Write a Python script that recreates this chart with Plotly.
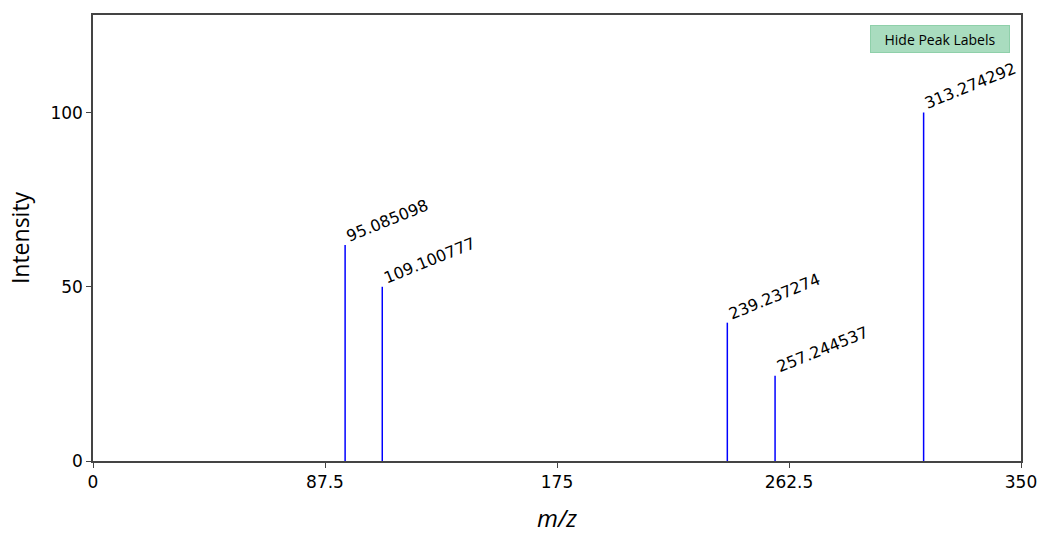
import plotly.graph_objects as go

# Peak list (m/z, relative intensity)
mz = [95.085098, 109.100777, 239.237274, 257.244537, 313.274292]
intensity = [62.0, 50.0, 39.7, 24.5, 100.0]
peak_labels = ["95.085098", "109.100777", "239.237274", "257.244537", "313.274292"]

x_ticks = [0, 87.5, 175, 262.5, 350]
y_ticks = [0, 50, 100]

# Stick spectrum: one vertical segment per peak
xs, ys = [], []
for m, i in zip(mz, intensity):
    xs += [m, m, None]
    ys += [0, i, None]

fig = go.Figure()
fig.add_trace(go.Scatter(
    x=xs, y=ys, mode="lines",
    line=dict(color="#0000ff", width=1.5),
    hoverinfo="skip", showlegend=False,
))

annotations = [
    dict(x=m, y=i, xref="x", yref="y", text=lab, showarrow=False,
         textangle=-22, xanchor="left", yanchor="bottom",
         xshift=-4, yshift=-3, name="peak",
         font=dict(family="DejaVu Sans", size=16, color="#000000"))
    for m, i, lab in zip(mz, intensity, peak_labels)
]

# Toggle button for the peak labels (clickable annotation)
annotations.append(dict(
    x=0.9882, y=0.9776, xref="paper", yref="paper",
    xanchor="right", yanchor="top", showarrow=False,
    text="Hide Peak Labels", name="toggle", captureevents=True,
    width=130, height=18, align="center", valign="middle",
    bgcolor="#a9dcbf", bordercolor="#8fd0aa", borderwidth=1, borderpad=4,
    font=dict(family="Open Sans", size=14, color="#000000"),
))

fig.update_layout(
    width=1043, height=534,
    margin=dict(l=93, r=22, t=15, b=73),
    paper_bgcolor="white", plot_bgcolor="white",
    annotations=annotations,
    xaxis=dict(
        range=[0, 350], tickvals=x_ticks,
        ticktext=[str(t) for t in x_ticks],
        showgrid=False, zeroline=False, automargin=False,
        showline=True, linecolor="#444444", linewidth=1.5, mirror=True,
        ticks="outside", ticklen=5, tickcolor="#444444",
        tickfont=dict(family="DejaVu Sans", size=17, color="#000000"),
        title=dict(text="<i>m/z</i>", standoff=25,
                   font=dict(family="Open Sans", size=24, color="#000000")),
    ),
    yaxis=dict(
        range=[0, 128], tickvals=y_ticks,
        showgrid=False, zeroline=False, automargin=False,
        showline=True, linecolor="#444444", linewidth=1.5, mirror=True,
        ticks="outside", ticklen=5, tickcolor="#444444",
        tickfont=dict(family="DejaVu Sans", size=17, color="#000000"),
        title=dict(text="Intensity", standoff=14,
                   font=dict(family="Open Sans", size=23, color="#000000")),
    ),
)

toggle_js = """
var gd = document.getElementById('{plot_id}');
gd.on('plotly_clickannotation', function(ev) {
    if (ev.annotation.name !== 'toggle') return;
    var anns = gd.layout.annotations;
    var show = anns[ev.index].text !== 'Hide Peak Labels';
    var upd = {};
    anns.forEach(function(a, k) {
        if (a.name === 'peak') upd['annotations[' + k + '].visible'] = show;
    });
    upd['annotations[' + ev.index + '].text'] = show ? 'Hide Peak Labels' : 'Show Peak Labels';
    Plotly.relayout(gd, upd);
});
"""

fig.write_html("out.html", post_script=toggle_js)
